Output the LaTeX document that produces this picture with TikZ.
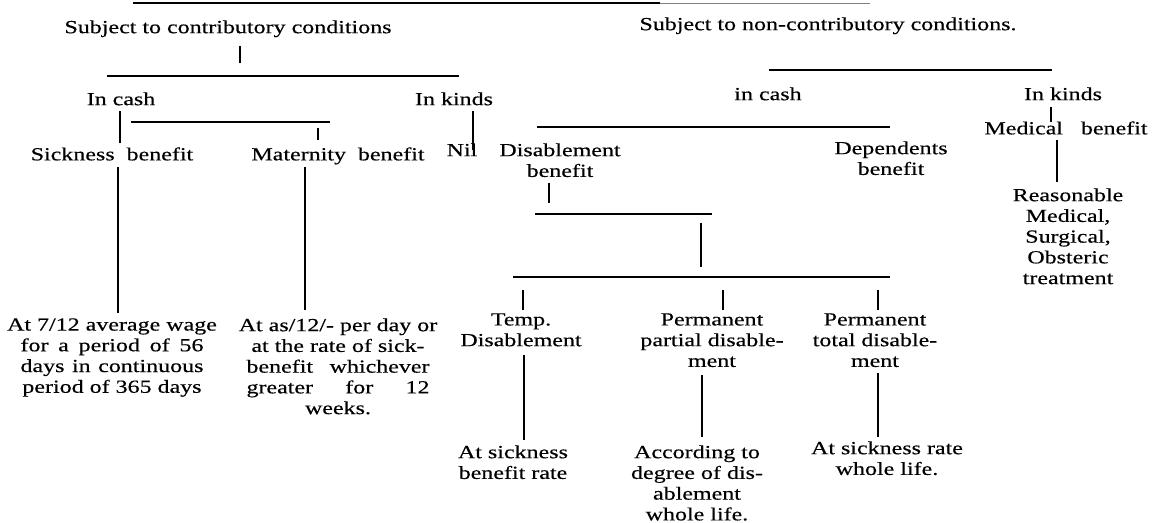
\documentclass[tikz,border=0pt]{standalone}
\usepackage{fontspec}
\setmainfont{Liberation Serif}[FakeStretch=1.3, FakeBold=0.4]
\usetikzlibrary{positioning}

\newcommand{\spreadline}[1]{\makebox[3.66cm][s]{#1}}

\tikzset{
  entry/.style={inner sep=0pt, anchor=north, align=center},
  link/.style={line width=0.7pt},
}

\begin{document}
\begin{tikzpicture}[x=0.02cm, y=-0.02cm, every node/.style={font=\fontsize{10.5}{11.8}\selectfont}]
  \useasboundingbox (0,0) rectangle (1156,522);

  % cut rule along the top edge
  \draw[link] (133,3) -- (660,3);
  \draw[very thin, gray] (660,3) -- (870,3);

  % headings
  \node[entry] (headL) at (228,20) {Subject to contributory conditions};
  \node[entry] (headR) at (828,17) {Subject to non-contributory conditions.};

  % contributory side
  \node[entry] (cashL) at (121,92) {In cash};
  \node[entry] (kindL) at (454,92) {In kinds};
  \node[entry] (sick) at (112,147) {Sickness\ \ benefit};
  \node[entry] (mat) at (338,147) {Maternity\ \ benefit};
  \node[entry] (nil) at (462,143) {Nil};
  \node[entry] (sickpay) at (112,318) {At 7/12 average wage\\\spreadline{for a period of 56}\\\spreadline{days in continuous}\\period of 365 days};
  \node[entry] (matpay) at (338,318) {At as/12/- per day or\\at the rate of sick-\\\spreadline{benefit whichever}\\\spreadline{greater for 12}\\weeks.};

  % non-contributory side
  \node[entry] (cashR) at (768,87) {in cash};
  \node[entry] (kindR) at (1063,87) {In kinds};
  \node[entry] (disab) at (560,143) {Disablement\\benefit};
  \node[entry] (depend) at (891,141) {Dependents\\benefit};
  \node[entry] (medic) at (1066,121) {Medical\ \ \ benefit};
  \node[entry] (treat) at (1068,188) {Reasonable\\Medical,\\Surgical,\\Obsteric\\treatment};
  \node[entry] (temp) at (521,313) {Temp.\\Disablement};
  \node[entry] (partial) at (712,313) {Permanent\\partial disable-\\ment};
  \node[entry] (total) at (875,313) {Permanent\\total disable-\\ment};
  \node[entry] (temppay) at (513,445) {At sickness\\benefit rate};
  \node[entry] (partpay) at (697,445) {According to\\degree of dis-\\ablement\\whole life.};
  \node[entry] (totalpay) at (887,441) {At sickness rate\\whole life.};

  % rails
  \coordinate (railA-w) at (107,76);  \coordinate (railA-e) at (459,76);
  \coordinate (railB-w) at (131,122); \coordinate (railB-e) at (330,122);
  \coordinate (railC-w) at (769,70);  \coordinate (railC-e) at (1052,70);
  \coordinate (railD-w) at (537,127); \coordinate (railD-e) at (890,127);
  \coordinate (railE-w) at (535,214); \coordinate (railE-e) at (712,214);
  \coordinate (railF-w) at (513,277); \coordinate (railF-e) at (890,277);
  \foreach \r in {A,B,C,D,E,F}
    \draw[link] (rail\r-w) -- (rail\r-e);

  % drops, contributory side
  \draw[link] (headL.north -| 240,0) ++(0,26) -- ++(0,17);
  \draw[link] (sick.north -| 120,0) ++(0,-36) -- ++(0,32);
  \draw[link] (mat.north -| 318,0) ++(0,-19) -- ++(0,12);
  \draw[link] (kindL.north -| 473,0) ++(0,19) -- ++(0,39);
  \draw[link] (sickpay.north -| 118,0) ++(0,-151) -- ++(0,146);
  \draw[link] (matpay.north -| 305,0) ++(0,-151) -- ++(0,143);

  % drops, non-contributory side
  \draw[link] (kindR.north -| 1051,0) ++(0,20) -- ++(0,15);
  \draw[link] (treat.north -| 1057,0) ++(0,-48) -- ++(0,42);
  \draw[link] (disab.north -| 549,0) ++(0,40) -- ++(0,20);
  \draw[link] (railE-e -| 701,0) ++(0,9) -- ++(0,44);
  \foreach \n/\x in {temp/523, partial/723, total/878}
    \draw[link] (\n.north -| \x,0) ++(0,-23) -- ++(0,20);
  \draw[link] (temppay.north -| 524,0) ++(0,-90) -- ++(0,85);
  \draw[link] (partpay.north -| 702,0) ++(0,-70) -- ++(0,62);
  \draw[link] (totalpay.north -| 878,0) ++(0,-68) -- ++(0,64);
\end{tikzpicture}
\end{document}
